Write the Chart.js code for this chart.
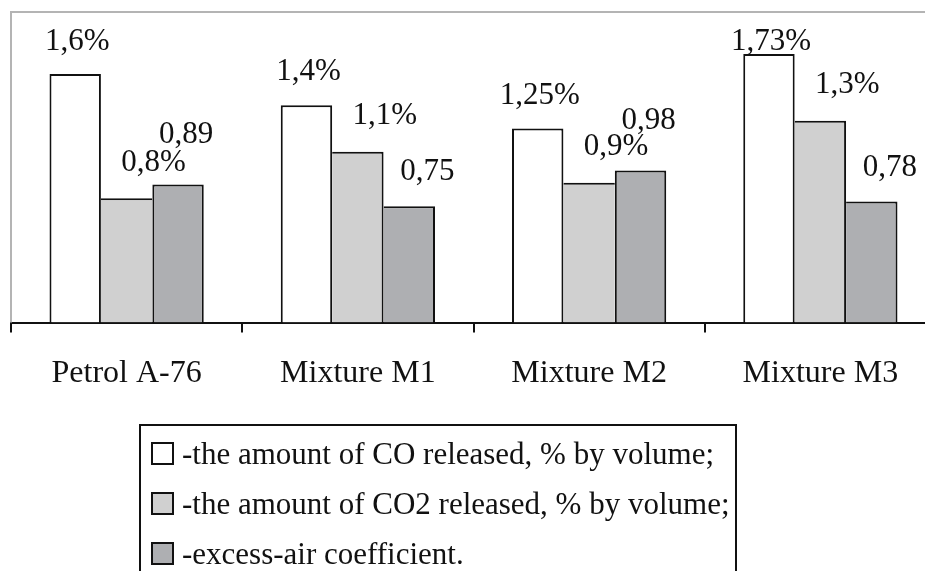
<!DOCTYPE html>
<html>
<head>
<meta charset="utf-8">
<script src="https://cdn.jsdelivr.net/npm/chart.js@4"></script>
<style>
    html, body { margin: 0; padding: 0; background: #fff; overflow: hidden; }
    #wrap { width: 945px; height: 571px; }
</style>
</head>
<body>
<div id="wrap"><canvas id="fuelChart" width="945" height="571"></canvas></div>
<script>
// values
const categories = ['Petrol A-76', 'Mixture M1', 'Mixture M2', 'Mixture M3'];
const coValues = [1.6, 1.4, 1.25, 1.73];
const co2Values = [0.8, 1.1, 0.9, 1.3];
const excessAirValues = [0.89, 0.75, 0.98, 0.78];
const seriesNames = [
    '-the amount of CO released, % by volume;',
    '-the amount of CO2 released, % by volume;',
    '-excess-air coefficient.'
];
const yRange = [0, 2];

const seriesValues = [coValues, co2Values, excessAirValues];
const serif = "'Liberation Serif', 'Times New Roman', serif";
const fills = ['#ffffff', '#d0d0d0', '#aeafb2'];

// one shared 2px edge between touching bars, owned by the taller one
function edgeWidths(ctx) {
    if (ctx.type !== 'data') return 2;
    const d = ctx.datasetIndex, i = ctx.dataIndex;
    const v = seriesValues[d][i];
    const prev = d > 0 ? seriesValues[d - 1][i] : null;
    const next = d < seriesValues.length - 1 ? seriesValues[d + 1][i] : null;
    return {
        top: 2,
        bottom: 0,
        left: prev !== null && prev >= v ? 0 : 2,
        right: next !== null && next > v ? 0 : 2
    };
}

// gray frame on the top and left of the plot
const plotFrame = {
    id: 'plotFrame',
    beforeDatasetsDraw(chart) {
        const { ctx, chartArea: a } = chart;
        ctx.save();
        ctx.strokeStyle = '#b4b4b4';
        ctx.lineWidth = 2;
        ctx.beginPath();
        ctx.moveTo(a.left, a.bottom);
        ctx.lineTo(a.left, a.top);
        ctx.lineTo(chart.width, a.top);
        ctx.stroke();
        ctx.restore();
    }
};

// value labels, nudged like the original
const valueLabels = {
    id: 'valueLabels',
    afterDatasetsDraw(chart) {
        const { ctx, chartArea: a } = chart;
        ctx.save();
        ctx.font = `31px ${serif}`;
        ctx.fillStyle = '#111';
        ctx.textAlign = 'center';
        ctx.textBaseline = 'middle';
        chart.data.datasets.forEach((ds, d) => {
            chart.getDatasetMeta(d).data.forEach((bar, i) => {
                const v = ds.data[i];
                let dx = 2, dy = -33;
                if (d === 1) { dx = 27; dy = -36; }
                if (d === 2) {
                    const higher = v > co2Values[i];
                    dx = higher ? 8 : 18;
                    dy = higher ? -50 : -34;
                }
                const text = String(v).replace('.', ',') + (d < 2 ? '%' : '');
                ctx.fillText(text, bar.x + dx, Math.max(bar.y + dy, a.top + 30));
            });
        });
        ctx.restore();
    }
};

// boxed legend under the plot
const boxLegend = {
    id: 'boxLegend',
    afterDraw(chart) {
        const ctx = chart.ctx;
        ctx.save();
        ctx.strokeStyle = '#111';
        ctx.lineWidth = 2;
        ctx.strokeRect(140, 425, 596, chart.height - 425 + 10);
        ctx.font = `31px ${serif}`;
        ctx.textAlign = 'left';
        ctx.textBaseline = 'alphabetic';
        chart.data.datasets.forEach((ds, d) => {
            const top = 443 + d * 50;
            ctx.fillStyle = ds.backgroundColor;
            ctx.fillRect(152, top, 21, 21);
            ctx.lineWidth = 2;
            ctx.strokeStyle = '#111';
            ctx.strokeRect(152, top, 21, 21);
            ctx.fillStyle = '#111';
            ctx.fillText(ds.label, 182, top + 21);
        });
        ctx.restore();
    }
};

const ctx = document.getElementById('fuelChart').getContext('2d');
new Chart(ctx, {
    type: 'bar',
    data: {
        labels: categories,
        datasets: seriesValues.map((vals, d) => ({
            label: seriesNames[d],
            data: vals,
            backgroundColor: fills[d],
            borderColor: '#111',
            borderWidth: edgeWidths,
            borderSkipped: false,
            categoryPercentage: 0.667,
            barPercentage: 1
        }))
    },
    options: {
        responsive: false,
        animation: false,
        layout: { padding: { left: 11, top: 12, right: 9, bottom: 156 } },
        plugins: {
            legend: { display: false },
            tooltip: { enabled: false }
        },
        scales: {
            x: {
                z: 1,
                grid: {
                    drawOnChartArea: false,
                    tickLength: 10,
                    color: '#111',
                    lineWidth: 2,
                    offset: true
                },
                border: { color: '#111', width: 2 },
                ticks: {
                    color: '#111',
                    font: { family: serif, size: 32 },
                    padding: 22,
                    maxRotation: 0,
                    autoSkip: false
                }
            },
            y: {
                display: false,
                min: yRange[0],
                max: yRange[1]
            }
        }
    },
    plugins: [plotFrame, valueLabels, boxLegend]
});
</script>
</body>
</html>
